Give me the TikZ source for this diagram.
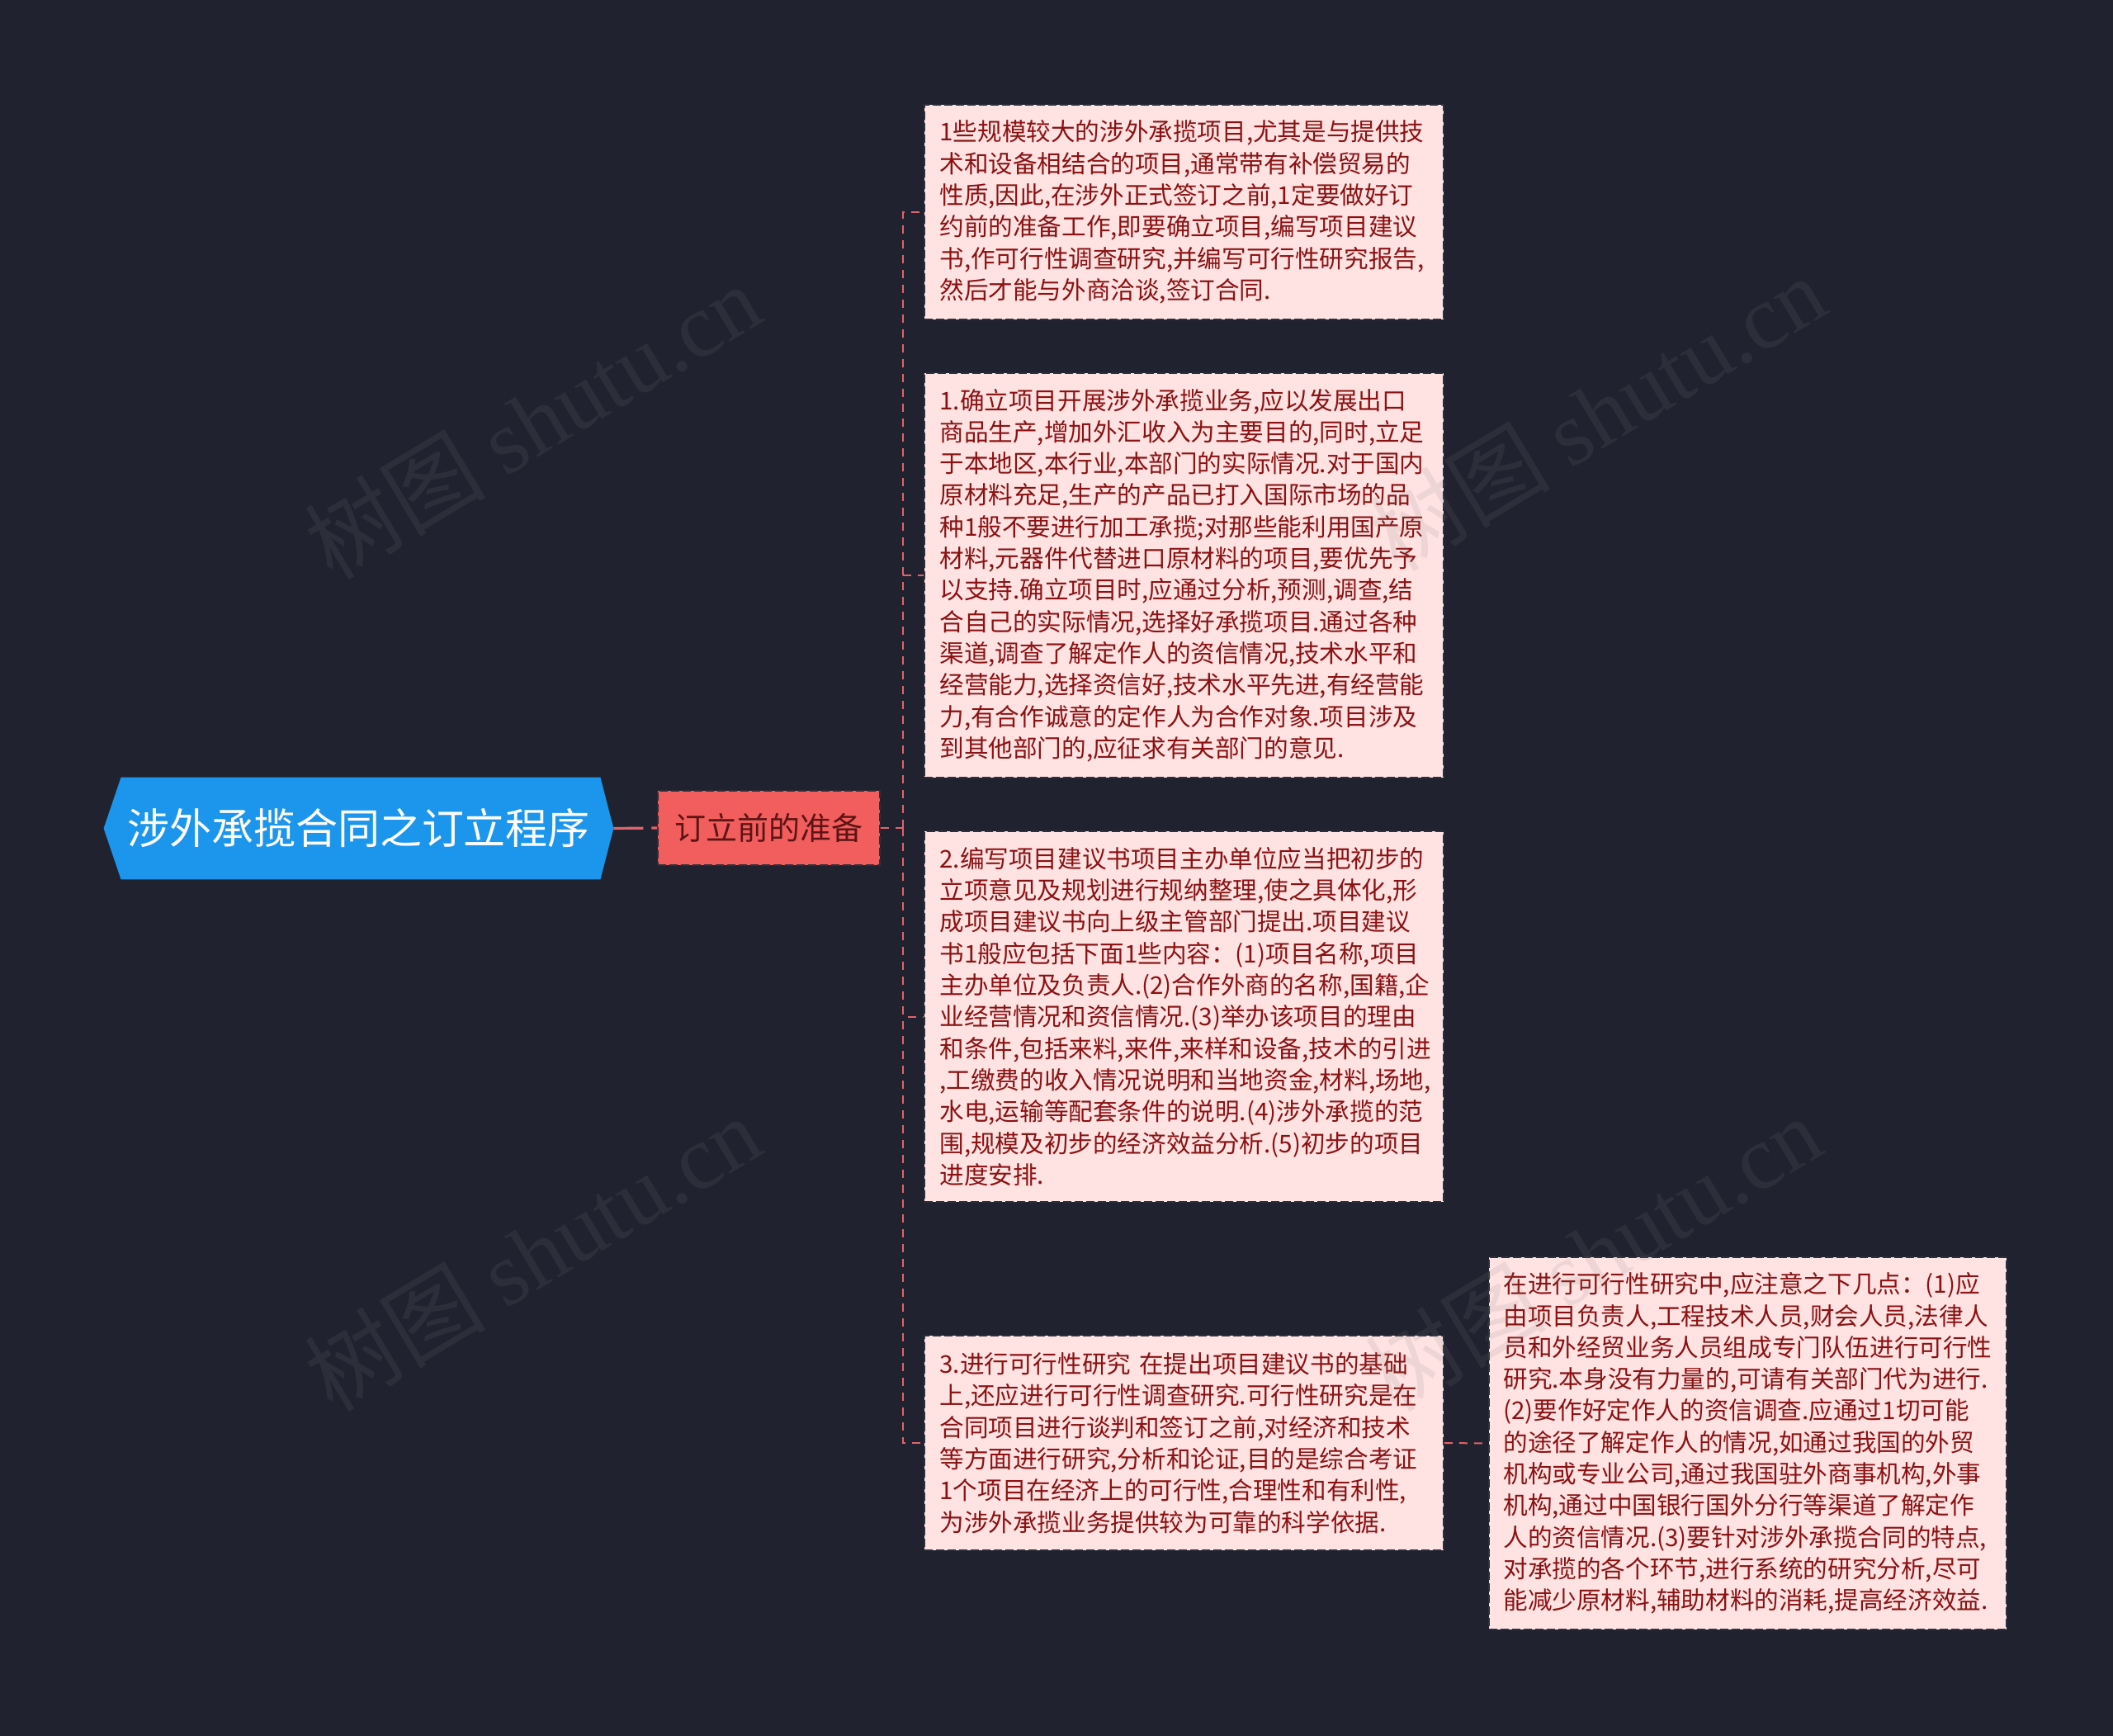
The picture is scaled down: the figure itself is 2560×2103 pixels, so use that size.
\documentclass[tikz,border=0pt]{standalone}
\usepackage{fontspec}
\setmainfont{Noto Sans CJK SC}
\newfontfamily\wmlatin{Liberation Serif}
\usetikzlibrary{calc,backgrounds}
\definecolor{bgc}{HTML}{20232F}
\definecolor{rootblue}{HTML}{1B96EC}
\definecolor{prepred}{HTML}{F25E5E}
\definecolor{preptext}{HTML}{5E1414}
\definecolor{boxfill}{HTML}{FFE2E2}
\definecolor{boxborder}{HTML}{2C2F3C}
\definecolor{textred}{HTML}{8B1212}
\definecolor{conncol}{HTML}{E0646C}
\tikzset{
  rootnode/.style={minimum width=308.5pt, minimum height=61.5pt, inner sep=0pt, text=white,
    font=\fontsize{25.5pt}{30pt}\selectfont},
  prepnode/.style={fill=prepred, draw=boxborder, line width=0.8pt, dash pattern=on 5pt off 2pt,
    minimum width=134.5pt, minimum height=45pt, inner sep=0pt, text=preptext,
    font=\fontsize{19pt}{23pt}\selectfont},
  textbox/.style={fill=boxfill, draw=boxborder, line width=0.8pt, dash pattern=on 5pt off 2pt,
    text width=296pt, inner xsep=0pt, inner ysep=0pt, align=left, text=textred,
    font=\fontsize{14.8pt}{19.15pt}\selectfont},
  conn/.style={draw=conncol, line width=1pt, dash pattern=on 5pt off 4pt},
  wmark/.style={rotate=31, text=gray, opacity=0.13, font=\fontsize{55pt}{60pt}\selectfont}
}
\begin{document}
\begin{tikzpicture}[x=0.5pt, y=-0.5pt]
\useasboundingbox (0,0) rectangle (2560,2103);
\begin{scope}[on background layer]
  \fill[bgc] (0,0) rectangle (2560,2103);
\end{scope}

% root
\node[rootnode] (root) at (434.5,1003.5) {涉外承揽合同之订立程序};
\begin{scope}[on background layer]
  \fill[rootblue] (root.west) -- ($(root.north west)+(21,0)$) -- ($(root.north east)+(-16,0)$)
    -- (root.east) -- ($(root.south east)+(-16,0)$) -- ($(root.south west)+(21,0)$) -- cycle;
\end{scope}

% second level
\node[prepnode] (prep) at (931.5,1003) {订立前的准备};

% text boxes
\node[textbox, minimum width=314.5pt, minimum height=130pt] (b1) at (1434.5,257) {1些规模较大的涉外承揽项目,尤其是与提供技\\
术和设备相结合的项目,通常带有补偿贸易的\\
性质,因此,在涉外正式签订之前,1定要做好订\\
约前的准备工作,即要确立项目,编写项目建议\\
书,作可行性调查研究,并编写可行性研究报告,\\
然后才能与外商洽谈,签订合同.};

\node[textbox, minimum width=314.5pt, minimum height=245pt] (b2) at (1434.5,697) {1.确立项目开展涉外承揽业务,应以发展出口\\
商品生产,增加外汇收入为主要目的,同时,立足\\
于本地区,本行业,本部门的实际情况.对于国内\\
原材料充足,生产的产品已打入国际市场的品\\
种1般不要进行加工承揽;对那些能利用国产原\\
材料,元器件代替进口原材料的项目,要优先予\\
以支持.确立项目时,应通过分析,预测,调查,结\\
合自己的实际情况,选择好承揽项目.通过各种\\
渠道,调查了解定作人的资信情况,技术水平和\\
经营能力,选择资信好,技术水平先进,有经营能\\
力,有合作诚意的定作人为合作对象.项目涉及\\
到其他部门的,应征求有关部门的意见.};

\node[textbox, minimum width=314.5pt, minimum height=224.5pt] (b3) at (1434.5,1231.5) {2.编写项目建议书项目主办单位应当把初步的\\
立项意见及规划进行规纳整理,使之具体化,形\\
成项目建议书向上级主管部门提出.项目建议\\
书1般应包括下面1些内容：(1)项目名称,项目\\
主办单位及负责人.(2)合作外商的名称,国籍,企\\
业经营情况和资信情况.(3)举办该项目的理由\\
和条件,包括来料,来件,来样和设备,技术的引进\\
,工缴费的收入情况说明和当地资金,材料,场地,\\
水电,运输等配套条件的说明.(4)涉外承揽的范\\
围,规模及初步的经济效益分析.(5)初步的项目\\
进度安排.};

\node[textbox, minimum width=314.5pt, minimum height=130pt] (b4) at (1434.5,1748) {3.进行可行性研究 在提出项目建议书的基础\\
上,还应进行可行性调查研究.可行性研究是在\\
合同项目进行谈判和签订之前,对经济和技术\\
等方面进行研究,分析和论证,目的是综合考证\\
1个项目在经济上的可行性,合理性和有利性,\\
为涉外承揽业务提供较为可靠的科学依据.};

\node[textbox, minimum width=313.5pt, minimum height=225.5pt] (b5) at (2117.5,1748.5) {在进行可行性研究中,应注意之下几点：(1)应\\
由项目负责人,工程技术人员,财会人员,法律人\\
员和外经贸业务人员组成专门队伍进行可行性\\
研究.本身没有力量的,可请有关部门代为进行.\\
(2)要作好定作人的资信调查.应通过1切可能\\
的途径了解定作人的情况,如通过我国的外贸\\
机构或专业公司,通过我国驻外商事机构,外事\\
机构,通过中国银行国外分行等渠道了解定作\\
人的资信情况.(3)要针对涉外承揽合同的特点,\\
对承揽的各个环节,进行系统的研究分析,尽可\\
能减少原材料,辅助材料的消耗,提高经济效益.};

% connectors
\draw[conn, line width=1.6pt, dash pattern=on 18pt off 5pt] (root.east) -- (prep.west);
\coordinate (trunk) at (1094,1003);
\draw[conn] (prep.east) -- (trunk);
\draw[conn] (trunk) |- (b1.west);
\draw[conn] (trunk) |- (b2.west);
\draw[conn] (trunk) |- (b3.west);
\draw[conn] (trunk) |- (b4.west);
\draw[conn] (b4.east) -- (b5.west);

% watermarks
\node[wmark] (wm1) at (645,510) {树图 {\wmlatin shutu.cn}};
\node[wmark] (wm2) at (1935,500) {树图 {\wmlatin shutu.cn}};
\node[wmark] (wm3) at (645,1518) {树图 {\wmlatin shutu.cn}};
\node[wmark] (wm4) at (1930,1518) {树图 {\wmlatin shutu.cn}};
\end{tikzpicture}
\end{document}
